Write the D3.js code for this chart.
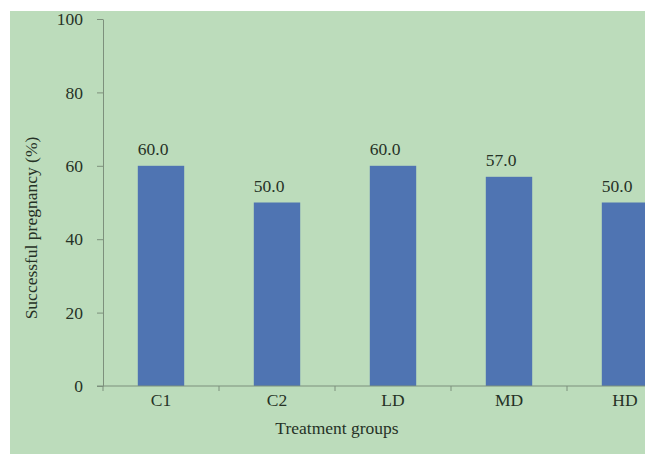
<!DOCTYPE html>
<html>
<head>
<meta charset="utf-8">
<script src="https://cdn.jsdelivr.net/npm/d3@7"></script>
<style>
  html, body { margin: 0; padding: 0; background: #ffffff; }
  svg { display: block; }
  text { font-family: "Liberation Serif", "DejaVu Serif", serif; fill: #263226; }
</style>
</head>
<body>
<svg id="chart" width="645" height="455"></svg>
<script>
// Pregnancy success by treatment group
const groups = ["C1", "C2", "LD", "MD", "HD"];
const successRate = [60.0, 50.0, 60.0, 57.0, 50.0];
const yTicks = [0, 20, 40, 60, 80, 100];

const svg = d3.select("#chart");
const W = 645, H = 455;
const fontSize = "17.5px";

// panel background
svg.append("rect")
  .attr("x", 10).attr("y", 11)
  .attr("width", W - 10).attr("height", H - 12)
  .attr("fill", "#bcdcbb");

const x0 = 103, x1 = 683, yTop = 19, yBase = 386;

const x = d3.scaleBand()
  .domain(groups)
  .range([x0, x1])
  .paddingInner(0.6)
  .paddingOuter(0.3);

const y = d3.scaleLinear().domain([0, 100]).range([yBase, yTop]);

const axisColor = "#7d907c";

// y axis
const yAxis = svg.append("g")
  .attr("transform", `translate(${x0},0)`)
  .call(d3.axisLeft(y).tickValues(yTicks).tickSize(6).tickPadding(14).tickSizeOuter(0));
yAxis.select(".domain").attr("stroke", axisColor);
yAxis.selectAll(".tick line").attr("stroke", axisColor);
yAxis.selectAll(".tick text")
  .style("font-family", '"Liberation Serif", serif')
  .style("font-size", fontSize)
  .attr("fill", "#263226");

// bars
svg.append("g").selectAll("rect")
  .data(groups)
  .join("rect")
  .attr("x", d => x(d))
  .attr("width", x.bandwidth())
  .attr("y", (d, i) => y(successRate[i]))
  .attr("height", (d, i) => yBase - y(successRate[i]))
  .attr("fill", "#4f74b2");

// value labels, aligned to each bar's left edge
svg.append("g").selectAll("text")
  .data(groups)
  .join("text")
  .attr("x", d => x(d))
  .attr("y", (d, i) => y(successRate[i]) - 11)
  .attr("text-anchor", "start")
  .style("font-size", fontSize)
  .text((d, i) => successRate[i].toFixed(1));

// x axis with ticks between categories
const step = x.step();
const boundaries = d3.range(groups.length + 1).map(i => x0 + i * step);
const xg = svg.append("g");
xg.append("line")
  .attr("x1", x0 - 6).attr("x2", x1)
  .attr("y1", yBase).attr("y2", yBase)
  .attr("stroke", axisColor);
xg.selectAll("line.tk")
  .data(boundaries)
  .join("line")
  .attr("class", "tk")
  .attr("x1", d => d).attr("x2", d => d)
  .attr("y1", yBase).attr("y2", yBase + 5)
  .attr("stroke", axisColor);
xg.selectAll("text")
  .data(groups)
  .join("text")
  .attr("x", d => x(d) + x.bandwidth() / 2)
  .attr("y", yBase + 20)
  .attr("text-anchor", "middle")
  .style("font-size", fontSize)
  .text(d => d);

// axis titles
svg.append("text")
  .attr("x", 337).attr("y", 434)
  .attr("text-anchor", "middle")
  .style("font-size", fontSize)
  .text("Treatment groups");

svg.append("text")
  .attr("transform", "translate(37,228) rotate(-90)")
  .attr("text-anchor", "middle")
  .style("font-size", fontSize)
  .text("Successful pregnancy (%)");
</script>
</body>
</html>
